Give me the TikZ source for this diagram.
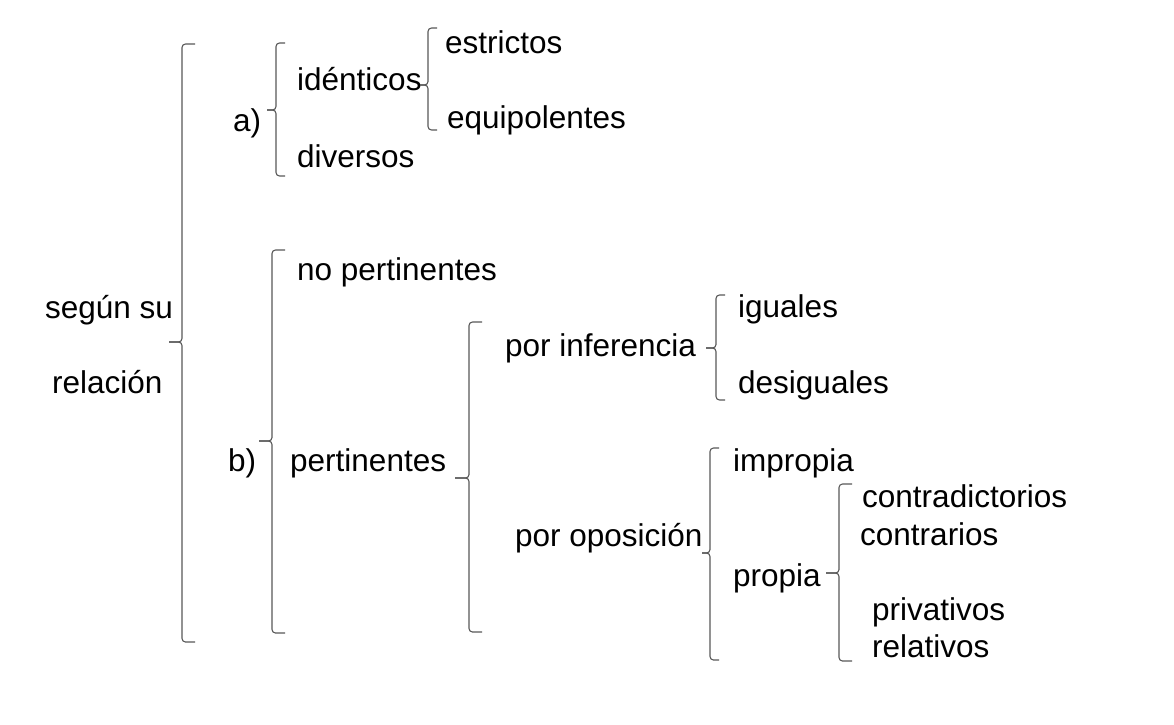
\documentclass[tikz,border=0pt]{standalone}
\usepackage{fontspec}
\setmainfont{Liberation Sans}
\begin{document}
\begin{tikzpicture}[x=1pt,y=-1pt,
  lbl/.style={anchor=base west,inner sep=0pt,font=\fontsize{31.5}{38}\selectfont},
  brc/.style={draw=black!65,line width=1.1pt,rounded corners=3.5pt}]
\fill[white] (0,0) rectangle (1174,724);
\useasboundingbox (0,0) rectangle (1174,724);
% brace: #1 x, #2 top, #3 mid, #4 bottom, #5 right tick, #6 left tick
\newcommand\mybrace[6]{%
  \path[brc] (#1+#5,#2) -- (#1,#2) -- (#1,#3) -- (#1-#6,#3);
  \path[brc] (#1-#6,#3) -- (#1,#3) -- (#1,#4) -- (#1+#5,#4);}
% texts
\node[lbl] (segun) at (45,318) {según su};
\node[lbl] (relacion) at (52,393) {relación};
\node[lbl] (a) at (233,131) {a)};
\node[lbl] (b) at (228,471) {b)};
\node[lbl] (identicos) at (297,90) {idénticos};
\node[lbl] (diversos) at (297,167) {diversos};
\node[lbl] (estrictos) at (445,53) {estrictos};
\node[lbl] (equipolentes) at (447,128) {equipolentes};
\node[lbl] (nopert) at (297,280) {no pertinentes};
\node[lbl] (pert) at (290,471) {pertinentes};
\node[lbl] (inferencia) at (505,356) {por inferencia};
\node[lbl] (iguales) at (738,317) {iguales};
\node[lbl] (desiguales) at (738,393) {desiguales};
\node[lbl] (oposicion) at (515,546) {por oposición};
\node[lbl] (impropia) at (733,471) {impropia};
\node[lbl] (propia) at (733,586) {propia};
\node[lbl] (contradictorios) at (862,507) {contradictorios};
\node[lbl] (contrarios) at (860,545) {contrarios};
\node[lbl] (privativos) at (872,620) {privativos};
\node[lbl] (relativos) at (872,657) {relativos};
% braces
\mybrace{182}{44}{342}{642}{13}{13}
\mybrace{276}{43}{110}{176}{9}{9}
\mybrace{272}{250}{441}{633}{13}{13}
\mybrace{428}{28}{85}{130}{9}{8}
\mybrace{469}{322}{478}{632}{13}{14}
\mybrace{716}{295}{348}{400}{9}{10}
\mybrace{710}{448}{553}{660}{9}{8}
\mybrace{839}{484}{573}{661}{13}{13}
\end{tikzpicture}
\end{document}
